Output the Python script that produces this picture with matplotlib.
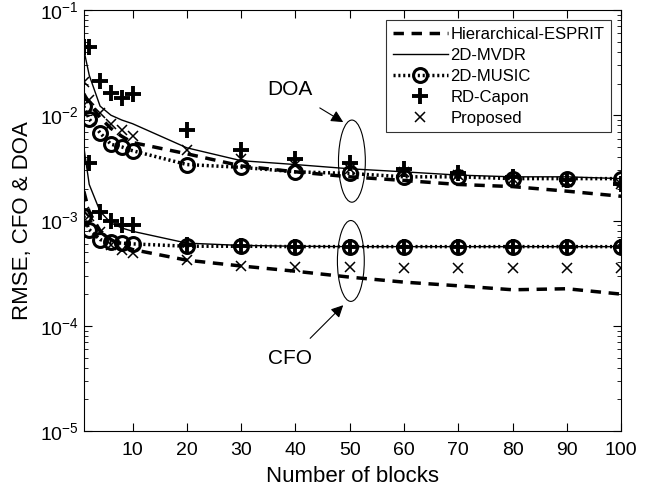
import numpy as np
import matplotlib.pyplot as plt
from matplotlib.patches import Ellipse

plt.rcParams['font.family'] = ['Liberation Sans', 'DejaVu Sans']
plt.rcParams['mathtext.fontset'] = 'custom'
plt.rcParams['mathtext.rm'] = 'Liberation Sans'

# number of blocks
blocks = [1, 2, 4, 6, 8, 10, 20, 30, 40, 50, 60, 70, 80, 90, 100]

# DOA RMSE
esprit_doa = [0.016, 0.013, 0.0095, 0.0075, 0.0063, 0.0055, 0.0043, 0.0033, 0.0029, 0.0026, 0.0024, 0.0022, 0.0021, 0.0019, 0.0017]
mvdr_doa = [0.042, 0.024, 0.0122, 0.0100, 0.0090, 0.0083, 0.0049, 0.0037, 0.0034, 0.0031, 0.0029, 0.0027, 0.0026, 0.0026, 0.0025]
music_doa = [0.0122, 0.0092, 0.0068, 0.0053, 0.0050, 0.0046, 0.0034, 0.0032, 0.0029, 0.0028, 0.0026, 0.0026, 0.0025, 0.0025, 0.0025]
capon_doa = [0.044, 0.044, 0.021, 0.0164, 0.0147, 0.0158, 0.0072, 0.0047, 0.0038, 0.0035, 0.0031, 0.0028, 0.0026, 0.0024, 0.0022]
prop_doa = [0.0208, 0.014, 0.0104, 0.0083, 0.0072, 0.0064, 0.0047, 0.0038, 0.0034, 0.0031, 0.0029, 0.0027, 0.0025, 0.0023, 0.0022]

# CFO RMSE
esprit_cfo = [0.0019, 0.0012, 0.0008, 0.00066, 0.00058, 0.00053, 0.00042, 0.00037, 0.00033, 0.00029, 0.00026, 0.00024, 0.00022, 0.000225, 0.0002]
mvdr_cfo = [0.005, 0.0022, 0.00122, 0.00095, 0.00085, 0.00079, 0.00061, 0.00058, 0.00057, 0.000565, 0.000565, 0.000565, 0.000565, 0.000565, 0.000565]
music_cfo = [0.0011, 0.00082, 0.00066, 0.00062, 0.00061, 0.0006, 0.00057, 0.00057, 0.000565, 0.000565, 0.000565, 0.000565, 0.000565, 0.000565, 0.000565]
capon_cfo = [0.044, 0.0035, 0.0012, 0.00098, 0.0009, 0.0009, 0.00058, 0.000575, 0.000565, 0.000565, 0.000565, 0.000565, 0.000565, 0.000565, 0.000565]
prop_cfo = [0.0012, 0.0011, 0.00078, 0.00058, 0.00052, 0.00049, 0.00042, 0.00037, 0.00036, 0.00036, 0.000355, 0.000355, 0.000355, 0.000355, 0.000355]

fig = plt.figure(figsize=(6.65, 4.95), dpi=100)
ax = fig.add_axes([0.126, 0.129, 0.808, 0.851])

styles = [
    ("Hierarchical-ESPRIT", esprit_doa, esprit_cfo, dict(ls=(0, (3, 2.2)), lw=2.5, color='k')),
    ("2D-MVDR", mvdr_doa, mvdr_cfo, dict(ls='-', lw=1.0, color='k')),
    ("2D-MUSIC", music_doa, music_cfo, dict(ls=(0, (0.6, 0.8)), lw=2.5, color='k', marker='o',
                                             ms=10, mfc='none', mew=2.2)),
    ("RD-Capon", capon_doa, capon_cfo, dict(ls='none', color='k', marker='+', ms=11.5, mew=2.8)),
    ("Proposed", prop_doa, prop_cfo, dict(ls='none', color='k', marker='x', ms=7, mew=1.1)),
]

for name, doa, cfo, st in styles:
    ax.plot(blocks, doa, label=name, **st)
    ax.plot(blocks, cfo, **st)

ax.set_yscale('log')
ax.set_xlim(1, 100)
ax.set_ylim(1e-5, 1e-1)
ax.set_xticks(range(10, 101, 10))
ax.set_yticks([1e-5, 1e-4, 1e-3, 1e-2, 1e-1])
ax.tick_params(which='both', direction='in', top=True, right=True, labelsize=14)
ax.tick_params(which='major', length=6)
ax.tick_params(which='minor', length=3)
ax.tick_params(axis='x', pad=8)
for s in ax.spines.values():
    s.set_linewidth(0.8)

ax.set_xlabel("Number of blocks", fontsize=16, labelpad=5)
ax.set_ylabel("RMSE, CFO & DOA", fontsize=16, labelpad=5)

leg = ax.legend(loc='upper right', fontsize=12, frameon=True, fancybox=False,
                edgecolor='k', handlelength=3.3, handletextpad=0.15, labelspacing=0.36,
                borderpad=0.4, borderaxespad=0.6)
leg.get_frame().set_linewidth(0.8)

# ellipses around the curves at 50 blocks (drawn in axes coordinates)
ax.add_patch(Ellipse((0.499, 0.641), 0.05, 0.195, transform=ax.transAxes,
                     fill=False, lw=0.8, color='k'))
ax.add_patch(Ellipse((0.497, 0.404), 0.05, 0.192, transform=ax.transAxes,
                     fill=False, lw=0.8, color='k'))

ax.annotate("DOA", xy=(48.8, 0.0086), xytext=(39, 0.0174), fontsize=15,
            ha='center', va='center',
            arrowprops=dict(arrowstyle='-|>', color='k', lw=0.8, mutation_scale=18,
                            shrinkA=8, shrinkB=0))
ax.annotate("CFO", xy=(48.8, 1.57e-4), xytext=(39, 4.9e-5), fontsize=15,
            ha='center', va='center',
            arrowprops=dict(arrowstyle='-|>', color='k', lw=0.8, mutation_scale=18,
                            shrinkA=8, shrinkB=0))

fig.savefig("out.png", dpi=100)
